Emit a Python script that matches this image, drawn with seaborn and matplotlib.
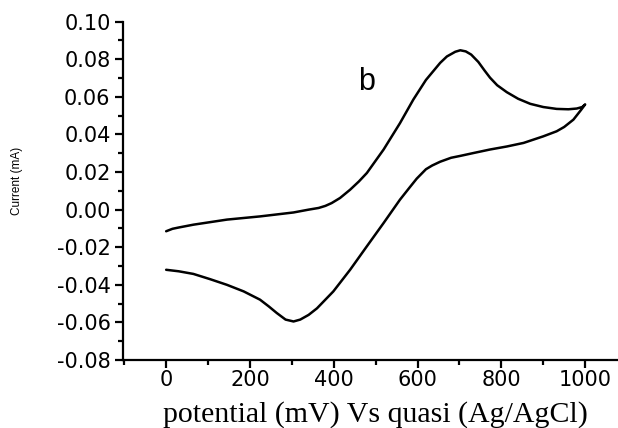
import numpy as np
import pandas as pd
import matplotlib
matplotlib.use("Agg")
import matplotlib.pyplot as plt
import seaborn as sns
from matplotlib.ticker import MultipleLocator, FormatStrFormatter

# Cyclic voltammogram, values
# forward (anodic) sweep, 0 -> 1000 mV
fwd_potential = [0, 15, 30, 65, 145, 224, 304, 340, 364, 380, 395, 415, 439,
                 460, 479, 519, 558, 590, 620, 654, 670, 690, 702, 715, 728,
                 745, 760, 773, 790, 813, 840, 869, 900, 932, 960, 980, 993,
                 1000]
fwd_current = [-0.0115, -0.0102, -0.0095, -0.0080, -0.0053, -0.0036, -0.0015,
               0.0000, 0.0009, 0.0020, 0.0035, 0.0062, 0.0106, 0.0150, 0.0195,
               0.0320, 0.0460, 0.0586, 0.0690, 0.0781, 0.0815, 0.0840, 0.0848,
               0.0842, 0.0825, 0.0786, 0.0740, 0.0702, 0.0662, 0.0625, 0.0590,
               0.0563, 0.0546, 0.0536, 0.0534, 0.0538, 0.0546, 0.0560]

# reverse (cathodic) sweep, 1000 -> 0 mV
rev_potential = [1000, 990, 972, 950, 932, 900, 853, 813, 773, 735, 702, 680,
                 654, 635, 620, 598, 580, 558, 519, 479, 439, 399, 360, 340,
                 320, 304, 285, 264, 245, 224, 185, 145, 105, 65, 30, 0]
rev_current = [0.0560, 0.0530, 0.0479, 0.0440, 0.0417, 0.0390, 0.0355, 0.0336,
               0.0320, 0.0302, 0.0286, 0.0276, 0.0255, 0.0235, 0.0215, 0.0165,
               0.0115, 0.0053, -0.0071, -0.0195, -0.0320, -0.0435, -0.0525,
               -0.0560, -0.0585, -0.0595, -0.0585, -0.0550, -0.0515, -0.0479,
               -0.0435, -0.0400, -0.0370, -0.0342, -0.0328, -0.0320]

df = pd.DataFrame({
    "potential": fwd_potential + rev_potential,
    "current": fwd_current + rev_current,
})

sns.set_style("ticks", {"text.color": "black", "axes.labelcolor": "black",
                        "xtick.color": "black", "ytick.color": "black"})
plt.rcParams["axes.unicode_minus"] = False

fig = plt.figure(figsize=(6.18, 4.28), dpi=100)
ax = fig.add_axes([123 / 618, 68 / 428, 494 / 618, 338.3 / 428])

sns.lineplot(data=df, x="potential", y="current", sort=False, estimator=None,
             color="black", linewidth=1.8, ax=ax)

ax.set_xlim(-103, 1076)
ax.set_ylim(-0.08, 0.10)

ax.xaxis.set_major_locator(MultipleLocator(200))
ax.xaxis.set_minor_locator(MultipleLocator(100))
ax.yaxis.set_major_locator(MultipleLocator(0.02))
ax.yaxis.set_minor_locator(MultipleLocator(0.01))
ax.yaxis.set_major_formatter(FormatStrFormatter("%.2f"))

sns.despine(ax=ax)
for side in ["left", "bottom"]:
    ax.spines[side].set_linewidth(1.6)
    ax.spines[side].set_color("black")

ax.tick_params(which="major", direction="out", length=6, width=1.6,
               color="black", labelsize=15)
ax.tick_params(which="minor", direction="out", length=3.5, width=1.6,
               color="black")
ax.tick_params(axis="y", which="major", pad=3)
ax.tick_params(axis="x", which="major", pad=1)
for lbl in ax.get_xticklabels() + ax.get_yticklabels():
    lbl.set_family("DejaVu Sans")

ax.set_xlabel("potential (mV) Vs quasi (Ag/AgCl)", family="Liberation Serif",
              fontsize=21.5, labelpad=4)
ax.xaxis.set_label_coords(0.512, -0.12)
ax.set_ylabel("")
fig.text(17 / 618, 1 - 181 / 428, "Current (mA)", rotation=90,
         family="Liberation Sans", fontsize=8.5, ha="center", va="center")

ax.text(479, 0.068, "b", family="Liberation Sans", fontsize=22,
        ha="center", va="center")

fig.savefig("out.png", dpi=100)
